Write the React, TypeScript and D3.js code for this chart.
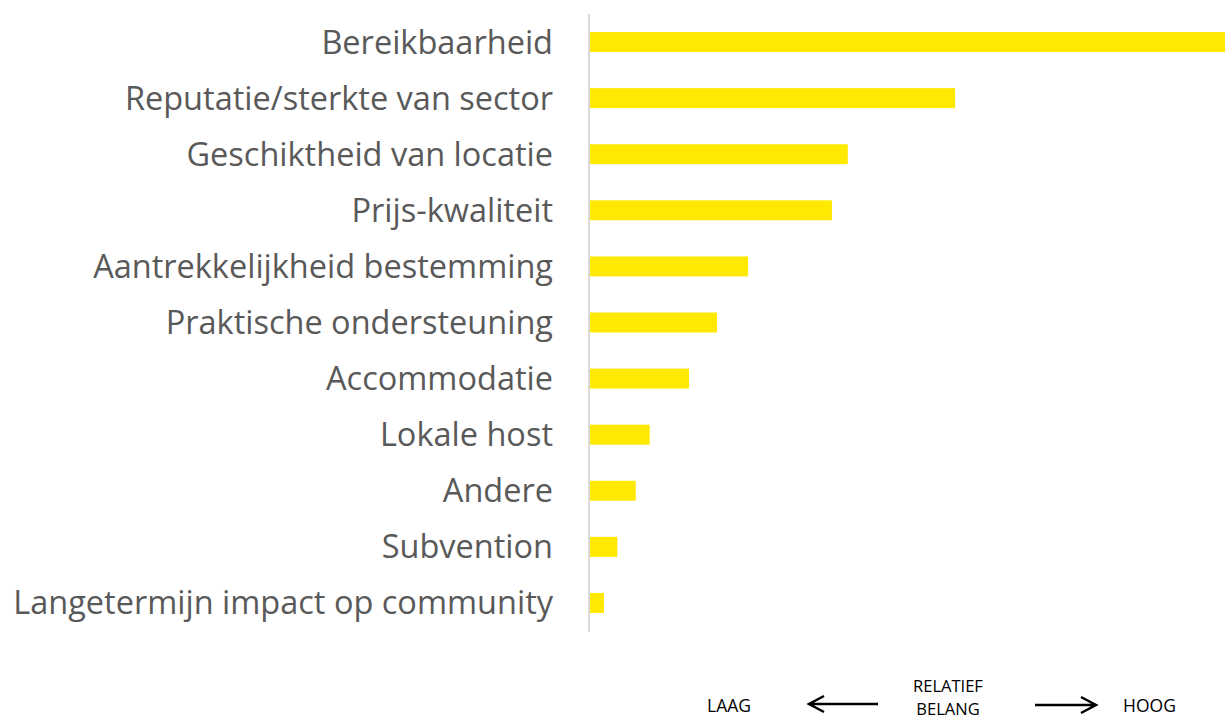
import React from "react";
import * as d3 from "d3";

const categories = [
  "Bereikbaarheid",
  "Reputatie/sterkte van sector",
  "Geschiktheid van locatie",
  "Prijs-kwaliteit",
  "Aantrekkelijkheid bestemming",
  "Praktische ondersteuning",
  "Accommodatie",
  "Lokale host",
  "Andere",
  "Subvention",
  "Langetermijn impact op community",
];
const values = [100, 57.5, 40.6, 38.1, 24.9, 20.0, 15.6, 9.4, 7.2, 4.3, 2.2];
const scaleLabels = { low: "LAAG", mid1: "RELATIEF", mid2: "BELANG", high: "HOOG" };

const W = 1225;
const H = 721;

export default function App() {
  const y = d3
    .scaleBand<string>()
    .domain(categories)
    .range([14, 631])
    .paddingInner(0.644)
    .paddingOuter(0.322);
  const x = d3.scaleLinear().domain([0, 100]).range([590, 1225]);
  const font = "'Open Sans', sans-serif";

  return (
    <svg
      width={W}
      height={H}
      style={{ position: "absolute", left: 0, top: 0, background: "#fff" }}
    >
      {categories.map((c, i) => (
        <g key={c}>
          <rect
            x={x(0)}
            y={y(c)!}
            width={x(values[i]) - x(0)}
            height={y.bandwidth()}
            fill="#FFE900"
          />
          <text
            x={553}
            y={y(c)! + y.bandwidth() / 2 + 11.5}
            textAnchor="end"
            fontFamily={font}
            fontSize={32.5}
            fill="#595959"
          >
            {c}
          </text>
        </g>
      ))}
      <line x1={589} x2={589} y1={14} y2={632} stroke="#d9d9d9" strokeWidth={2} />

      <g fontFamily={font} fill="#000">
        <text x={707} y={712} fontSize={17.5}>{scaleLabels.low}</text>
        <text x={948} y={692} fontSize={16.5} textAnchor="middle">{scaleLabels.mid1}</text>
        <text x={948} y={715} fontSize={16.5} textAnchor="middle">{scaleLabels.mid2}</text>
        <text x={1123} y={712} fontSize={17.5}>{scaleLabels.high}</text>
      </g>
      <g stroke="#000" strokeWidth={2.5} fill="none">
        <path d="M878,704 L809,704 M824,696 L809,704 L824,712" />
        <path d="M1035,705 L1096,705 M1081,697 L1096,705 L1081,713" />
      </g>
    </svg>
  );
}
